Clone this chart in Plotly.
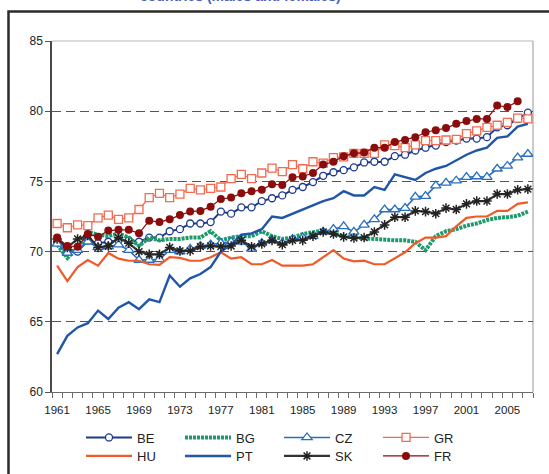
import plotly.graph_objects as go

years = list(range(1961, 2008))

BE = [70.7, 70.2, 70.0, 70.8, 70.6, 70.7, 70.8, 70.8, 70.7, 71.0,
      71.0, 71.45, 71.6, 72.0, 72.0, 72.1, 72.85, 72.7, 73.15, 73.15,
      73.6, 73.8, 74.0, 74.4, 74.6, 74.95, 75.4, 75.65, 75.8, 76.0,
      76.35, 76.4, 76.4, 76.8, 76.9, 77.2, 77.4, 77.55, 77.8, 77.9,
      78.05, 78.05, 78.15, 78.85, 79.0, 79.45, 79.9]
BG = [70.5, 69.55, 70.3, 71.4, 71.2, 71.1, 71.3, 71.0, 70.4, 71.0,
      70.8, 70.9, 70.9, 71.0, 71.0, 71.45, 70.8, 71.0, 71.1, 71.1,
      71.45, 71.1, 70.9, 71.0, 71.25, 71.4, 71.5, 71.3, 71.1, 71.0,
      70.95, 70.9, 70.8, 70.8, 70.8, 70.7, 70.1, 71.1, 71.45, 71.6,
      71.85, 72.0, 72.25, 72.4, 72.45, 72.55, 72.85]
CZ = [70.55, 69.9, 70.1, 70.7, 70.3, 70.35, 70.5, 70.1, 69.4, 69.4,
      69.45, 70.1, 70.0, 70.2, 70.4, 70.5, 70.6, 70.7, 70.7, 70.2,
      70.6, 70.8, 70.6, 70.9, 71.0, 71.1, 71.4, 71.6, 71.8, 71.4,
      71.9, 72.3, 73.0, 73.0, 73.1, 73.9, 73.95, 74.7, 74.9, 75.05,
      75.3, 75.35, 75.3, 75.9, 76.1, 76.7, 76.95]
GR = [72.0, 71.7, 71.9, 71.85, 72.4, 72.6, 72.3, 72.4, 73.0, 73.85,
      74.15, 73.85, 74.1, 74.5, 74.4, 74.5, 74.6, 75.2, 75.5, 75.2,
      75.6, 75.95, 75.7, 76.2, 75.9, 76.4, 76.3, 76.7, 76.75, 77.0,
      77.0, 77.0, 77.6, 77.55, 77.4, 77.6, 77.9, 77.9, 77.95, 78.0,
      78.4, 78.6, 78.85, 79.0, 79.2, 79.5, 79.45]
HU = [69.0, 67.9, 68.9, 69.4, 69.0, 69.9, 69.5, 69.35, 69.35, 69.1,
      69.05, 69.6, 69.55, 69.35, 69.35, 69.6, 69.95, 69.5, 69.6, 69.1,
      69.1, 69.4, 69.0, 69.0, 69.0, 69.1, 69.6, 70.1, 69.5, 69.3,
      69.35, 69.1, 69.1, 69.5, 69.95, 70.6, 71.0, 71.0, 71.1, 71.8,
      72.4, 72.5, 72.5, 72.9, 72.9, 73.4, 73.5]
PT = [62.7, 64.0, 64.6, 64.9, 65.8, 65.2, 66.0, 66.4, 65.9, 66.6,
      66.4, 68.3, 67.5, 68.1, 68.4, 68.9, 70.0, 70.5, 71.2, 71.3,
      71.6, 72.5, 72.4, 72.7, 73.0, 73.3, 73.6, 73.8, 74.3, 74.0,
      74.0, 74.6, 74.4, 75.5, 75.3, 75.1, 75.6, 75.9, 76.1, 76.5,
      76.9, 77.2, 77.4, 78.1, 78.2, 78.9, 79.1]
SK = [70.9, 70.3, 70.9, 71.15, 70.3, 70.4, 71.0, 70.6, 70.0, 69.8,
      69.8, 70.3, 70.05, 70.05, 70.35, 70.4, 70.35, 70.4, 70.8, 70.35,
      70.55, 70.8, 70.5, 70.8, 70.8, 71.1, 71.4, 71.25, 71.05, 70.97,
      71.0, 71.4, 71.9, 72.45, 72.45, 72.9, 72.85, 72.7, 73.1, 73.0,
      73.4, 73.6, 73.6, 74.1, 74.1, 74.4, 74.45]
FR = [71.0, 70.4, 70.35, 71.25, 71.05, 71.5, 71.55, 71.55, 71.3, 72.2,
      72.1, 72.3, 72.6, 72.85, 72.9, 73.2, 73.75, 73.85, 74.15, 74.3,
      74.4, 74.8, 74.75, 75.3, 75.35, 75.6, 76.2, 76.4, 76.8, 77.0,
      77.05, 77.4, 77.4, 77.8, 77.95, 78.15, 78.5, 78.65, 78.8, 79.1,
      79.3, 79.45, 79.45, 80.4, 80.3, 80.7]

tick_years = list(range(1961, 2006, 4))
y_ticks = [60, 65, 70, 75, 80, 85]

FONT = "Liberation Sans, Arial, sans-serif"

fig = go.Figure()

def add(name, vals, color, width, legend, marker=None, dash=None):
    kw = dict(x=years[:len(vals)], y=vals, name=name, legend=legend,
              line=dict(color=color, width=width, dash=dash),
              hoverinfo="skip")
    if marker:
        kw["mode"] = "lines+markers"
        kw["marker"] = marker
    else:
        kw["mode"] = "lines"
    fig.add_trace(go.Scatter(**kw))

add("BE", BE, "#1d3a8c", 2, "legend",
    dict(symbol="circle", size=7, color="white", line=dict(color="#1d3a8c", width=1.3)))
add("BG", BG, "#1f9a6a", 4, "legend", dash="3px,1px")
add("CZ", CZ, "#2a6fbf", 1.6, "legend",
    dict(symbol="triangle-up", size=9, color="white", line=dict(color="#2a6fbf", width=1.3)))
add("GR", GR, "#f26a4f", 1.2, "legend",
    dict(symbol="square", size=8, color="white", line=dict(color="#f26a4f", width=1.3)))
add("HU", HU, "#f05a28", 2.2, "legend2")
add("PT", PT, "#1f56a8", 2.4, "legend2")
add("SK", SK, "#333333", 2.2, "legend2",
    dict(symbol="asterisk-open", size=8, color="#222222", line=dict(color="#222222", width=1.5)))
add("FR", FR, "#8b0c0c", 1.2, "legend2",
    dict(symbol="circle", size=8, color="#8b0c0c", line=dict(color="#8b0c0c", width=0)))

W, H = 549, 474
L, R, T, B = 52, 16, 41, 82
pw, ph = W - L - R, H - T - B

def px_x(px):
    return (px - L) / pw

def px_y(py):
    return (H - B - py) / ph

legend_common = dict(orientation="h", xanchor="left", yanchor="middle",
                     itemwidth=46, entrywidth=38, entrywidthmode="pixels",
                     font=dict(family=FONT, size=13, color="#222"),
                     bgcolor="rgba(0,0,0,0)", borderwidth=0,
                     traceorder="normal", tracegroupgap=0)

fig.update_layout(
    width=W, height=H,
    margin=dict(l=L, r=R, t=T, b=B, pad=0, autoexpand=False),
    paper_bgcolor="white", plot_bgcolor="white",
    font=dict(family=FONT, size=12, color="#222"),
    showlegend=True,
    legend=dict(x=px_x(81), y=px_y(437.5), **legend_common),
    legend2=dict(x=px_x(81), y=px_y(456), **legend_common),
    xaxis=dict(range=[1960.5, 2007.5], tickvals=tick_years,
               ticktext=[str(t) for t in tick_years],
               ticks="", showgrid=False, zeroline=False,
               showline=True, linecolor="#6a6a6a", linewidth=1,
               ticklabelstandoff=7, automargin=False,
               tickfont=dict(family=FONT, size=11.5, color="#222"),
               minor=dict(tick0=1960.5, dtick=1, ticks="outside", ticklen=5,
                          tickcolor="#6a6a6a", tickwidth=1, showgrid=False)),
    yaxis=dict(range=[60, 85], tickvals=y_ticks, ticks="outside", ticklen=5,
               tickcolor="#555", showline=True, linecolor="#4a4a4a", linewidth=1.5,
               showgrid=True, gridcolor="#555555", gridwidth=1, griddash="9px,5px",
               zeroline=False, automargin=False,
               tickfont=dict(family=FONT, size=12, color="#222")),
    shapes=[
        dict(type="line", xref="paper", yref="paper", x0=1, x1=1, y0=0, y1=1,
             line=dict(color="#a8a8a8", width=1.2), layer="below"),
        dict(type="line", xref="paper", yref="paper", x0=0, x1=1, y0=1, y1=1,
             line=dict(color="#b8b8b8", width=1.2), layer="below"),
        dict(type="rect", xref="paper", yref="paper",
             x0=px_x(8.5), x1=px_x(600), y0=px_y(600), y1=px_y(11.5),
             line=dict(color="#2b2b2b", width=2.5), fillcolor="rgba(0,0,0,0)",
             layer="above"),
    ],
    annotations=[
        dict(text="<b>countries (males and females)</b>", xref="paper", yref="paper",
             x=px_x(240), y=px_y(6), xanchor="center", yanchor="bottom",
             showarrow=False, font=dict(family=FONT, size=14, color="#4a5fc0")),
    ],
)

fig.write_html("out.html", config={"displayModeBar": False},
               post_script="document.body.style.margin='0';document.body.style.overflow='hidden';")
